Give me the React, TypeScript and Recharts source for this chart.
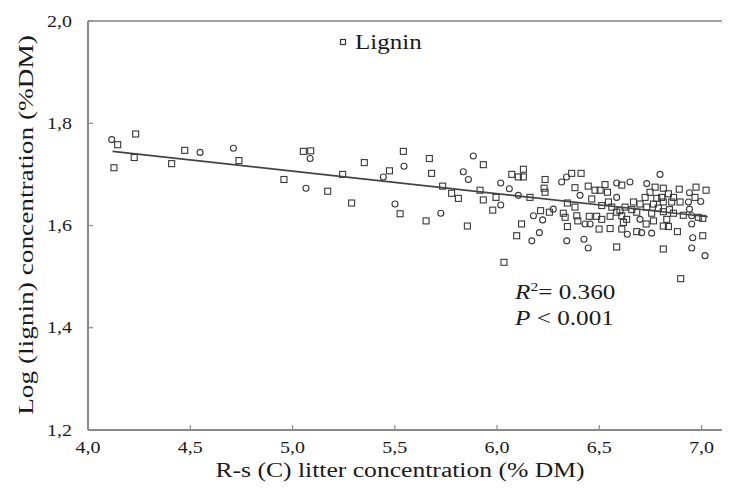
import { ScatterChart, Scatter, XAxis, YAxis, ReferenceLine, Legend, Label } from "recharts"

// squares
const sqX = [4.145, 4.233, 4.127, 4.226, 4.409, 4.473, 4.738, 5.053, 5.089, 4.958, 5.172, 5.245, 5.351, 5.289, 5.474, 5.542, 5.526, 5.669, 5.68, 5.933, 5.734, 5.778, 5.811, 5.653, 5.855, 5.917, 5.933, 5.979, 5.995, 6.072, 6.104, 6.096, 6.034, 6.129, 6.129, 6.235, 6.23, 6.235, 6.161, 6.365, 6.411, 6.381, 6.446, 6.463, 6.504, 6.528, 6.54, 6.344, 6.381, 6.256, 6.213, 6.324, 6.333, 6.39, 6.395, 6.451, 6.487, 6.512, 6.553, 6.585, 6.499, 6.553, 6.344, 6.585, 6.12, 6.512, 6.561, 6.545, 6.479, 6.61, 6.773, 6.813, 6.891, 6.973, 7.022, 6.968, 6.748, 6.838, 6.863, 6.781, 6.724, 6.667, 6.699, 6.765, 6.813, 6.854, 6.895, 6.626, 6.659, 6.732, 6.789, 6.843, 6.601, 6.61, 6.683, 6.756, 6.813, 6.863, 6.911, 6.984, 7.006, 6.634, 6.765, 6.83, 6.618, 6.729, 6.813, 6.838, 6.61, 6.683, 6.882, 7.006, 6.813, 6.898, 6.805]
const sqY = [1.758, 1.779, 1.713, 1.733, 1.721, 1.747, 1.727, 1.745, 1.746, 1.69, 1.667, 1.7, 1.723, 1.644, 1.707, 1.745, 1.623, 1.731, 1.702, 1.719, 1.677, 1.663, 1.653, 1.609, 1.599, 1.669, 1.65, 1.63, 1.655, 1.7, 1.695, 1.58, 1.528, 1.71, 1.695, 1.69, 1.673, 1.665, 1.655, 1.702, 1.702, 1.674, 1.677, 1.652, 1.669, 1.68, 1.665, 1.644, 1.636, 1.626, 1.629, 1.624, 1.616, 1.619, 1.609, 1.618, 1.618, 1.612, 1.618, 1.626, 1.593, 1.594, 1.598, 1.558, 1.603, 1.639, 1.636, 1.646, 1.669, 1.679, 1.675, 1.673, 1.671, 1.675, 1.669, 1.655, 1.665, 1.662, 1.655, 1.653, 1.655, 1.646, 1.642, 1.642, 1.646, 1.646, 1.646, 1.636, 1.631, 1.636, 1.634, 1.631, 1.629, 1.619, 1.626, 1.624, 1.627, 1.624, 1.62, 1.616, 1.614, 1.612, 1.609, 1.612, 1.606, 1.603, 1.599, 1.598, 1.593, 1.588, 1.588, 1.58, 1.554, 1.496, 1.655]

// circles
const ciX = [4.116, 4.548, 4.711, 5.086, 5.066, 5.444, 5.545, 5.501, 5.884, 5.835, 5.86, 5.725, 6.018, 6.018, 6.06, 6.104, 6.316, 6.34, 6.406, 6.585, 6.585, 6.275, 6.178, 6.223, 6.43, 6.455, 6.207, 6.17, 6.341, 6.425, 6.446, 6.797, 6.65, 6.732, 6.941, 6.996, 6.941, 6.952, 6.699, 6.952, 6.707, 6.756, 6.637, 6.957, 6.952, 7.017, 6.936]
const ciY = [1.768, 1.743, 1.751, 1.731, 1.673, 1.695, 1.716, 1.642, 1.736, 1.705, 1.69, 1.624, 1.64, 1.683, 1.672, 1.659, 1.685, 1.695, 1.659, 1.683, 1.655, 1.632, 1.619, 1.611, 1.603, 1.603, 1.586, 1.57, 1.57, 1.573, 1.556, 1.7, 1.685, 1.682, 1.664, 1.647, 1.632, 1.619, 1.612, 1.603, 1.586, 1.585, 1.583, 1.576, 1.556, 1.541, 1.646]

// regression line end points
const trendX = [4.12, 7.03]
const trendY = [1.745, 1.617]

const xTicks = [4.0, 4.5, 5.0, 5.5, 6.0, 6.5, 7.0]
const yTicks = [1.2, 1.4, 1.6, 1.8, 2.0]

const FONT = "'Liberation Serif', 'Times New Roman', serif"
const INK = "#1a1a1a"
const AXIS = "#8a8a8a"
const TICK_SIZE = 4
const X_MARGIN = 8
const Y_MARGIN = 12

const fmt = (v: number) => v.toFixed(1).replace(".", ",")

const SquareMark = (props: any) => {
    const { cx, cy } = props
    return <rect x={cx - 3} y={cy - 3} width={6} height={6} fill="none" stroke="#383838" strokeWidth={1.1} />
}

const CircleMark = (props: any) => {
    const { cx, cy } = props
    return <circle cx={cx} cy={cy} r={3} fill="none" stroke="#383838" strokeWidth={1.1} />
}

// ticks point into the plot, so the tick mark is drawn here
const XTick = ({ x, y, payload }: any) => {
    const axisY = y - TICK_SIZE - X_MARGIN
    return (
        <g>
            <line x1={x} x2={x} y1={axisY} y2={axisY - 5} stroke={AXIS} strokeWidth={1.2} />
            <text transform={`translate(${x},${y}) scale(1.25,1)`} textAnchor="middle" dy="0.71em"
                fontFamily={FONT} fontSize={16} fill={INK}>
                {fmt(payload.value)}
            </text>
        </g>
    )
}

const YTick = ({ x, y, payload }: any) => {
    const axisX = x + TICK_SIZE + Y_MARGIN
    return (
        <g>
            <line x1={axisX} x2={axisX + 5} y1={y} y2={y} stroke={AXIS} strokeWidth={1.2} />
            <text transform={`translate(${x},${y}) scale(1.25,1)`} textAnchor="end" dy="0.355em"
                fontFamily={FONT} fontSize={16} fill={INK}>
                {fmt(payload.value)}
            </text>
        </g>
    )
}

const LegendBox = ({ payload }: any) => {
    const items = (payload || []).filter((p: any) => p.type !== "none")
    return (
        <svg width={100} height={30}>
            {items.slice(0, 1).map((p: any) => (
                <g key={p.value}>
                    <rect x={5.5} y={11.5} width={5} height={5} fill="none" stroke="#333" strokeWidth={1.2} />
                    <text transform="translate(20,21) scale(1.25,1)" fontFamily={FONT} fontSize={20} fill={INK}>
                        {p.value}
                    </text>
                </g>
            ))}
        </svg>
    )
}

const App = () => {
    const squares = sqX.map((x, i) => ({ x, y: sqY[i] }))
    const circles = ciX.map((x, i) => ({ x, y: ciY[i] }))
    const trend = trendX.map((x, i) => ({ x, y: trendY[i] }))

    return (
        <div style={{ position: "absolute", left: 0, top: 0, width: 730, height: 492, background: "#fff" }}>
            <ScatterChart width={730} height={492} margin={{ top: 21, right: 8, bottom: 22, left: 0 }}>
                <XAxis
                    type="number"
                    dataKey="x"
                    domain={[4, 7.1]}
                    ticks={xTicks}
                    allowDataOverflow
                    height={40}
                    axisLine={{ stroke: AXIS, strokeWidth: 2 }}
                    tickLine={{ stroke: "none" }}
                    tickSize={TICK_SIZE}
                    tickMargin={X_MARGIN}
                    tick={<XTick />}
                >
                    <Label
                        content={() => (
                            <text transform="translate(400,477) scale(1.25,1)" textAnchor="middle"
                                fontFamily={FONT} fontSize={20.5} fill={INK}>
                                R-s (C) litter concentration (% DM)
                            </text>
                        )}
                    />
                </XAxis>
                <YAxis
                    type="number"
                    dataKey="y"
                    domain={[1.2, 2.0]}
                    ticks={yTicks}
                    allowDataOverflow
                    width={88}
                    axisLine={{ stroke: AXIS, strokeWidth: 2 }}
                    tickLine={{ stroke: "none" }}
                    tickSize={TICK_SIZE}
                    tickMargin={Y_MARGIN}
                    tick={<YTick />}
                >
                    <Label
                        content={() => (
                            <text transform="translate(33,225) rotate(-90) scale(1.3,1)" textAnchor="middle"
                                fontFamily={FONT} fontSize={21} fill={INK}>
                                Log (lignin) concentration (%DM)
                            </text>
                        )}
                    />
                </YAxis>
                <ReferenceLine y={2.0} stroke="#a0a0a0" strokeWidth={2} />
                <Legend
                    layout="horizontal"
                    verticalAlign="middle"
                    content={<LegendBox />}
                    wrapperStyle={{ position: "absolute", left: 335, top: 28, width: 100, height: 30 }}
                />
                <Scatter name="Lignin" data={squares} shape={<SquareMark />} isAnimationActive={false} />
                <Scatter name="Lignin circles" data={circles} shape={<CircleMark />} legendType="none" isAnimationActive={false} />
                <Scatter
                    name="trend"
                    data={trend}
                    line={{ stroke: "#444", strokeWidth: 1.6 }}
                    shape={() => <g />}
                    legendType="none"
                    isAnimationActive={false}
                />
            </ScatterChart>
            <svg width={200} height={60} style={{ position: "absolute", left: 505, top: 275 }}>
                <text transform="translate(10,24) scale(1.2,1)" fontFamily={FONT} fontSize={21} fill={INK}>
                    <tspan fontStyle="italic">R</tspan>
                    <tspan fontSize={13} dy={-8}>2</tspan>
                    <tspan dy={8}>= 0.360</tspan>
                </text>
                <text transform="translate(10,50) scale(1.2,1)" fontFamily={FONT} fontSize={21} fill={INK}>
                    <tspan fontStyle="italic">P</tspan>
                    <tspan> &lt; 0.001</tspan>
                </text>
            </svg>
        </div>
    )
}

export default App
